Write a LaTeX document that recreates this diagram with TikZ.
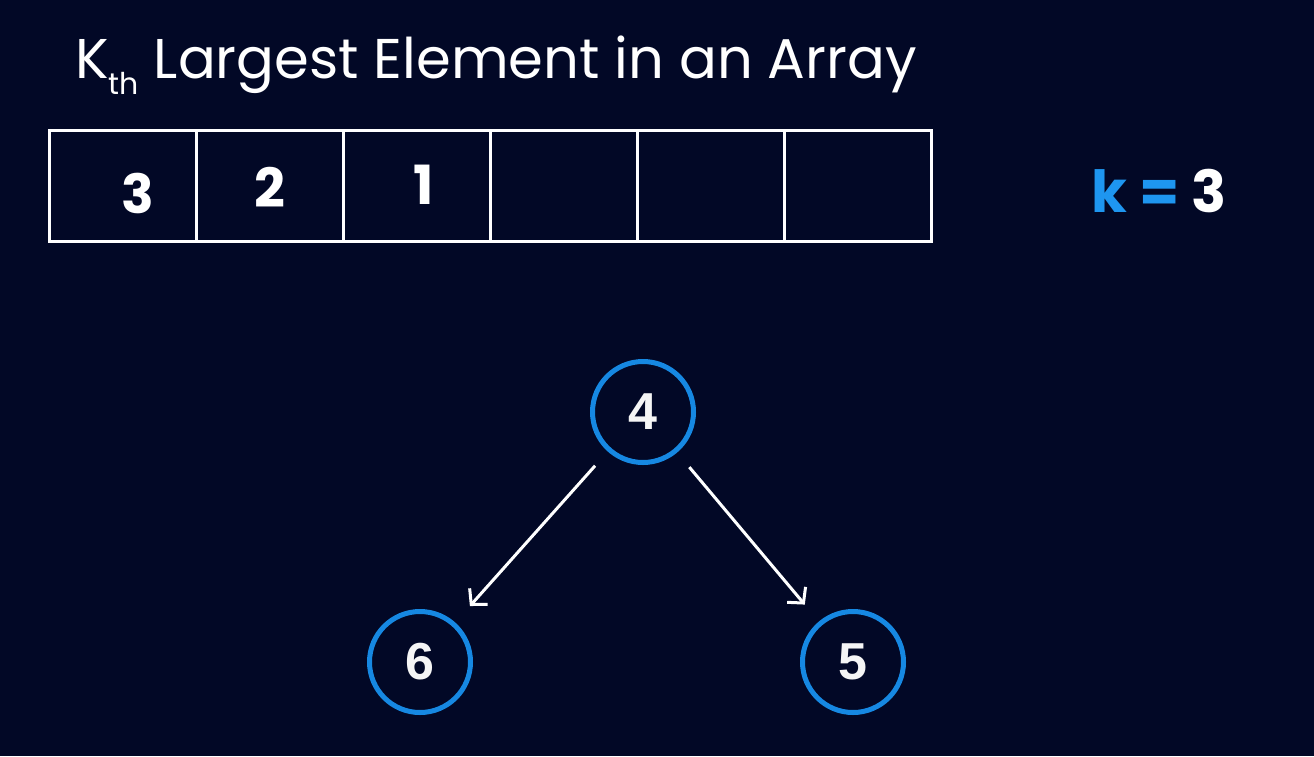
\documentclass[tikz,border=0pt]{standalone}
\usepackage{fontspec}
\setmainfont{Poppins}
\newfontfamily\digitfont{Liberation Sans}
\usetikzlibrary{arrows.meta}
\definecolor{navy}{RGB}{2,8,38}
\definecolor{heapblue}{RGB}{22,136,226}
\definecolor{kblue}{RGB}{30,150,240}
\begin{document}
\begin{tikzpicture}[
		x=1pt, y=-1pt,
		cell/.style = {rectangle, draw=white, line width=3, minimum width=147, minimum height=111, inner sep=0},
		num/.style  = {text=white, font=\fontsize{54}{54}\selectfont\bfseries},
		heap/.style = {circle, draw=heapblue, line width=5, minimum size=101, inner sep=0,
		               text=white!92!gray, font=\digitfont\bfseries\fontsize{52}{52}\selectfont},
		e/.style    = {-{Straight Barb[length=11, width=24]}, draw=white, line width=3,
		               shorten <=19, shorten >=22}
		]
		
		% === === Background === ===
		\fill[navy] (0,0) rectangle (1314,756);
		\useasboundingbox (0,0) rectangle (1314,756);
		
		% === === Title === ===
		\node[text=white, anchor=base west, inner sep=0] (title) at (75,78)
			{\fontsize{56}{56}\selectfont K\raisebox{-0.3em}{\fontsize{30}{30}\selectfont th} Largest Element in an Array};
		
		% === === Array === ===
		\foreach \i in {1,...,6}
			\node[cell] (c\i) at (122.5+147*\i-147, 185.5) {};
		
		\node[num]	(v1)	at	(138, 193)		{3};
		\node[num]	(v2)	at	(270, 187)		{2};
		\node[num]	(v3)	at	(424, 185)		{1};
		
		\node[font=\fontsize{58}{58}\selectfont\bfseries, text=white] (k) at (1159, 191)
			{\textcolor{kblue}{k = }3};
		
		% === === Heap === ===
		\node[heap]	(n4)	at	(643, 412)		{4};
		\node[heap]	(n6)	at	(420, 662)		{6};
		\node[heap]	(n5)	at	(853, 662)		{5};
		
		% === === Lines === ===
		\draw[e]	(n4)	--	(n6);
		\draw[e]	(n4)	--	(n5);
		
	\end{tikzpicture}
\end{document}
